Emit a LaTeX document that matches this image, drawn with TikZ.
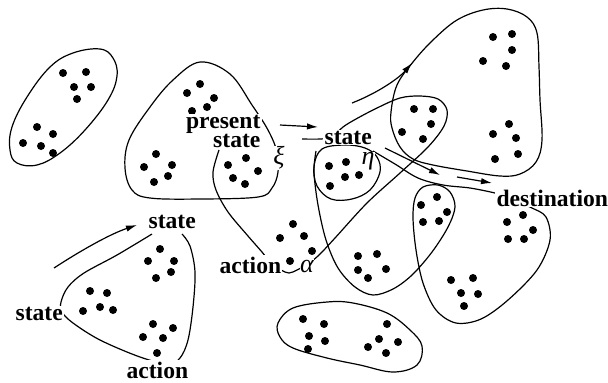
\documentclass[tikz,border=0pt]{standalone}
\usepackage{fontspec}
\setmainfont{Liberation Serif}
\usetikzlibrary{arrows.meta}
\tikzset{
  outline/.style={line width=0.6pt, line join=round},
  lab/.style={font=\bfseries\fontsize{11.8}{9.5}\selectfont, fill=white, inner sep=0.6pt},
  greek/.style={font=\itshape\fontsize{13}{13}\selectfont, fill=white, inner sep=0.2pt},
  arr/.style={line width=0.6pt, -{Latex[length=5.5pt,width=3.2pt]}},
  dot/.style={fill=black}
}
\newcommand\dotset[1]{\foreach \p in {#1} {\fill[dot] \p circle[radius=2pt];}}
\begin{document}
\begin{tikzpicture}[x=0.5pt,y=-0.5pt]
\useasboundingbox (0,0) rectangle (608,382);

% upper left oval
\draw[outline] plot[smooth cycle, tension=0.65] coordinates {(100,49) (113,58) (117,76) (108,100) (85,130) (60,153) (37,165) (17,163) (10,150) (12,127) (27,97) (50,67) (73,53)};
\dotset{(63,73),(86,72),(74,87),(91,87),(77,99),(37,127),(53,134),(23,143),(41,146),(53,153)}

% present-state region
\draw[outline] plot[smooth cycle, tension=0.6] coordinates {(200,62) (230,74) (252,105) (268,130) (277,152) (278,172) (272,188) (258,197) (200,199) (150,198) (132,190) (125,168) (129,140) (150,107) (173,80)};
\dotset{(200,84),(187,93),(214,98),(207,107),(192,111),(156,154),(144,167),(172,165),(168,176),(154,182),(246,158),(228,165),(258,171),(233,178),(245,184)}

% action set starting below the present state
\draw[outline] plot[smooth, tension=0.55] coordinates {(219,150) (213,172) (216,190) (228,212) (248,236) (262,252) (271,263) (281,270) (289,273) (297,270) (306,265) (318,256) (335,238) (367,203) (400,173) (428,147) (444,126) (447,110) (438,99) (420,96) (400,98) (377,108) (356,119) (343,127) (332,137) (320,139) (302,139)};
\dotset{(414,109),(433,109),(431,124),(402,132),(423,139)}

% upper right region
\draw[outline] plot[smooth cycle, tension=0.6] coordinates {(391,112) (397,85) (413,62) (433,40) (457,20) (483,10) (507,9) (527,17) (537,33) (539,67) (540,100) (542,140) (536,162) (520,174) (500,176) (467,171) (433,165) (413,159) (400,147) (392,128)};
\dotset{(493,37),(512,34),(512,50),(483,61),(506,66),(509,124),(493,134),(516,138),(518,154),(495,159)}

% small region below the second state
\draw[outline] plot[smooth cycle, tension=0.6] coordinates {(322,149) (314,166) (317,186) (331,199) (352,199) (370,190) (380,172) (377,157) (365,148) (345,145)};
\dotset{(329,166),(346,162),(345,177),(359,175),(330,186)}

% tall region and the destination region
\draw[outline] plot[smooth, tension=0.55] coordinates {(316,151) (314,172) (318,205) (326,240) (338,268) (355,287) (373,295) (393,289) (412,275) (432,252) (448,227) (455,207) (450,192) (438,185) (423,187) (415,198) (413,218) (416,250) (423,283) (436,310) (456,323) (481,319) (508,300) (537,270) (550,240) (546,217) (532,208) (520,203)};
\dotset{(358,256),(377,254),(358,270),(386,269),(368,278)}
\dotset{(437,197),(421,205),(447,212),(423,222),(439,221)}
\dotset{(523,215),(507,222),(533,230),(508,239),(524,239)}
\dotset{(451,280),(473,278),(461,293),(478,294),(464,306)}

% edge from eta towards the destination
\draw[outline] plot[smooth, tension=0.55] coordinates {(373,151) (395,164) (418,178) (443,185) (470,188) (495,193) (508,197)};

% dots between the regions
\dotset{(293,224),(280,238),(304,236),(312,251),(290,261)}

% bottom region
\draw[outline] plot[smooth cycle, tension=0.6] coordinates {(278,323) (293,308) (327,302) (353,303) (387,313) (410,330) (422,346) (417,365) (393,372) (360,365) (327,358) (293,348) (280,337)};
\dotset{(303,319),(324,324),(309,336),(325,341),(308,349),(387,324),(379,339),(398,342),(368,347),(386,353)}

% lower left region
\draw[outline] plot[smooth, tension=0.55] coordinates {(182,234) (190,246) (195,272) (193,307) (188,340) (180,358) (168,364) (140,357) (100,340) (73,323) (62,312) (61,302) (68,287) (84,273) (117,255) (152,234)};
\dotset{(160,249),(148,261),(174,261),(171,272),(156,278),(90,291),(107,293),(83,311),(100,307),(113,310),(153,324),(173,328),(143,337),(163,338),(157,353)}

% labels
\node[lab, align=right, anchor=base east] (pres) at (262,147) {present\\state};
\node[greek] (xi) at (279,158) {ξ};
\node[lab, anchor=base west] (st2) at (323,144) {state};
\node[greek] (eta) at (368,161) {η};
\node[lab, anchor=base west] (act1) at (218,273) {action};
\node[greek] (alpha) at (307,266) {α};
\node[lab, anchor=base west] (dest) at (495,206) {destination};
\node[lab, anchor=base west] (stJa) at (147,228) {state};
\node[lab, anchor=base west] (stJb) at (14,320) {state};
\node[lab, anchor=base west] (actJ) at (125,378) {action};

% arrows
\coordinate (a1s) at (280,125); \coordinate (a1e) at (318,127);
\draw[arr] (a1s) -- (a1e);
\coordinate (a2s) at (352,103); \coordinate (a2e) at (412,63);
\draw[arr] (a2s) .. controls (380,92) and (400,77) .. (a2e);
\coordinate (a3s) at (385,148); \coordinate (a3e) at (440,175);
\draw[arr] (a3s) -- (a3e);
\coordinate (a4s) at (457,177); \coordinate (a4e) at (492,183);
\draw[arr] (a4s) -- (a4e);
\coordinate (a5s) at (54,268); \coordinate (a5e) at (137,225);
\draw[arr] (a5s) .. controls (80,251) and (110,234) .. (a5e);
\end{tikzpicture}
\end{document}
